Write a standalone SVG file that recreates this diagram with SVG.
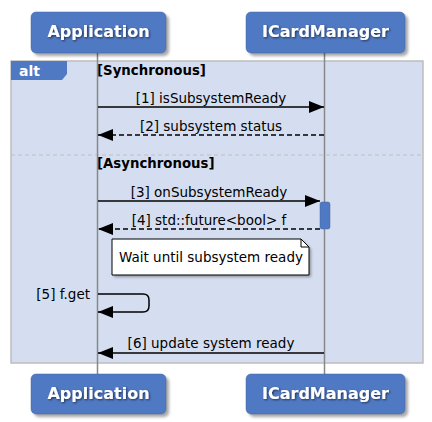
<svg xmlns="http://www.w3.org/2000/svg" width="432" height="422" viewBox="0 0 432 422">
<style>
.part{fill:#5079c3;stroke:#46679f;stroke-width:0.5}
.shadow{fill:#000;opacity:0.35;filter:url(#blur)}
.plabel{font-family:"DejaVu Sans",sans-serif;font-weight:bold;font-size:16px;fill:#fff;text-anchor:middle;filter:url(#tshadow)}
.life{stroke:#888;stroke-width:1.5}
.msg{font-family:"DejaVu Sans",sans-serif;font-size:13.5px;fill:#000}
.grp{font-family:"DejaVu Sans",sans-serif;font-weight:bold;font-size:13.3px;fill:#000}
.line{stroke:#000;stroke-width:1.5;fill:none}
.dash{stroke:#000;stroke-width:1.5;fill:none;stroke-dasharray:5,3}
</style>
<defs>
<filter id="blur" x="-20%" y="-20%" width="140%" height="140%"><feGaussianBlur stdDeviation="1.5"/></filter>
<filter id="tshadow" x="-10%" y="-30%" width="120%" height="160%"><feDropShadow dx="1" dy="1" stdDeviation="0.8" flood-color="#000" flood-opacity="0.6"/></filter>
<marker id="ah" markerWidth="16" markerHeight="12" refX="15" refY="6" orient="auto" markerUnits="userSpaceOnUse">
<path d="M0,0 L15,6 L0,12 Z" fill="#000"/>
</marker>
</defs>
<rect x="0" y="0" width="432" height="422" fill="#fff"/>
<!-- alt frame -->
<g id="alt">
<rect x="11" y="61" width="412" height="302" fill="#d5def0" stroke="#bdbdbd" stroke-width="1.5"/>
<path d="M11,61 H67 V74 L62,80 H11 Z" fill="#5079c3"/>
<text x="19" y="76" font-family="DejaVu Sans,sans-serif" font-weight="bold" font-size="14" fill="#fff">alt</text>
<text x="97" y="75" class="grp">[Synchronous]</text>
<line x1="11" y1="155" x2="423" y2="155" stroke="#bdbdbd" stroke-width="1.2" stroke-dasharray="4,3"/>
<text x="97" y="168" class="grp">[Asynchronous]</text>
</g>
<!-- lifelines -->
<g id="lifelines">
<line class="life" x1="97.5" y1="53" x2="97.5" y2="374"/>
<line class="life" x1="324.5" y1="53" x2="324.5" y2="374"/>
</g>
<!-- activation -->
<g id="activation">
<rect x="320" y="202" width="10" height="27" rx="2" fill="#5079c3" stroke="#46679f" stroke-width="0.5"/>
</g>
<!-- note -->
<g id="note">
<path class="shadow" d="M114,241 H303 L311,249 V277 H114 Z"/>
<path d="M112,239 H301 L309,247 V275 H112 Z" fill="#fff" stroke="#000" stroke-width="1"/>
<path d="M301,239 V247 H309" fill="none" stroke="#000" stroke-width="1"/>
<text x="119" y="262" class="msg">Wait until subsystem ready</text>
</g>
<!-- connectors -->
<g id="connectors">
<line class="line" x1="98" y1="107" x2="324" y2="107" marker-end="url(#ah)"/>
<text x="211" y="103" class="msg" text-anchor="middle">[1] isSubsystemReady</text>
<line class="dash" x1="324" y1="135" x2="98" y2="135" marker-end="url(#ah)"/>
<text x="211" y="131" class="msg" text-anchor="middle">[2] subsystem status</text>
<line class="line" x1="98" y1="201" x2="320" y2="201" marker-end="url(#ah)"/>
<text x="209" y="197" class="msg" text-anchor="middle">[3] onSubsystemReady</text>
<line class="dash" x1="320" y1="229" x2="98" y2="229" marker-end="url(#ah)"/>
<text x="209" y="225" class="msg" text-anchor="middle">[4] std::future&lt;bool&gt; f</text>
<path class="line" d="M98,294 H143 Q149,294 149,300 V306 Q149,312 143,312 H98" marker-end="url(#ah)"/>
<text x="90" y="299" class="msg" text-anchor="end">[5] f.get</text>
<line class="line" x1="324" y1="353" x2="98" y2="353" marker-end="url(#ah)"/>
<text x="211" y="348" class="msg" text-anchor="middle">[6] update system ready</text>
</g>
<!-- participants -->
<g id="app-top">
<rect class="shadow" x="34" y="15" width="135" height="41" rx="5"/>
<rect class="part" x="31" y="12" width="135" height="41" rx="5"/>
<text class="plabel" x="98.5" y="37">Application</text>
</g>
<g id="icm-top">
<rect class="shadow" x="249" y="15" width="159" height="41" rx="5"/>
<rect class="part" x="246" y="12" width="159" height="41" rx="5"/>
<text class="plabel" x="325.5" y="37">ICardManager</text>
</g>
<g id="app-bottom">
<rect class="shadow" x="34" y="377" width="135" height="40" rx="5"/>
<rect class="part" x="31" y="374" width="135" height="40" rx="5"/>
<text class="plabel" x="98.5" y="399">Application</text>
</g>
<g id="icm-bottom">
<rect class="shadow" x="249" y="377" width="159" height="40" rx="5"/>
<rect class="part" x="246" y="374" width="159" height="40" rx="5"/>
<text class="plabel" x="325.5" y="399">ICardManager</text>
</g>
</svg>
